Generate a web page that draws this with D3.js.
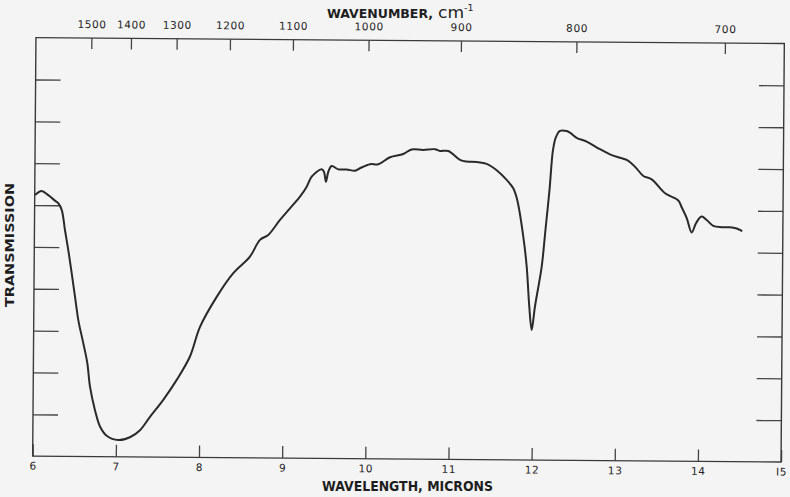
<!DOCTYPE html>
<html>
<head>
<meta charset="utf-8">
<script src="https://cdn.jsdelivr.net/npm/d3@7"></script>
<style>
  body { margin: 0; background: #f4f4f4; }
  svg { display: block; }
</style>
</head>
<body>
<div id="chart"></div>
<script>
// spectrum: wavelength in microns, transmission in % of the frame
const wavelength = [6.003, 6.083, 6.163, 6.244, 6.284, 6.326, 6.367, 6.409, 6.452, 6.494,
  6.536, 6.598, 6.648, 6.683, 6.745, 6.807, 6.888, 7.028, 7.168, 7.288,
  7.407, 7.565, 7.725, 7.882, 8.0, 8.198, 8.395, 8.594, 8.713, 8.812,
  8.952, 9.071, 9.19, 9.27, 9.329, 9.448, 9.476, 9.501, 9.528, 9.568,
  9.648, 9.749, 9.849, 9.909, 10.029, 10.129, 10.269, 10.428, 10.529, 10.668,
  10.809, 10.869, 10.969, 11.111, 11.191, 11.312, 11.432, 11.553, 11.674, 11.754,
  11.803, 11.879, 11.923, 11.958, 11.989, 12.026, 12.103, 12.145, 12.19, 12.228,
  12.262, 12.31, 12.391, 12.431, 12.511, 12.633, 12.793, 12.914, 13.035, 13.116,
  13.216, 13.317, 13.418, 13.58, 13.74, 13.781, 13.843, 13.904, 13.955, 14.021,
  14.083, 14.163, 14.264, 14.364, 14.445, 14.512];
const transmission = [62.4, 63.4, 62.4, 61.1, 60.5, 58.9, 54.1, 49.3, 43.8, 38.2,
  32.6, 27.1, 22.4, 16.7, 11.1, 7.2, 5.0, 4.0, 4.7, 6.4,
  9.6, 13.7, 18.5, 24.1, 31.2, 38.4, 44.1, 48.1, 52.1, 53.3,
  56.9, 59.7, 62.5, 64.9, 67.3, 69.1, 68.5, 66.1, 68.5, 69.9,
  69.1, 69.1, 68.8, 69.4, 70.4, 70.4, 72.1, 72.9, 74.0, 73.9,
  74.1, 73.7, 73.7, 71.6, 71.2, 71.1, 70.7, 69.2, 66.9, 64.9,
  62.1, 53.4, 46.2, 36.6, 31.1, 36.7, 46.2, 55.0, 64.6, 74.1,
  77.2, 78.7, 78.7, 78.3, 77.1, 76.2, 74.4, 73.2, 72.4, 71.9,
  70.3, 68.1, 67.3, 64.0, 62.3, 60.7, 58.1, 54.7, 56.9, 58.5,
  57.7, 56.3, 56.0, 56.0, 55.7, 55.1];

const wavelengthTicks = [6, 7, 8, 9, 10, 11, 12, 13, 14, 15];
const wavenumberTicks = [1500, 1400, 1300, 1200, 1100, 1000, 900, 800, 700];
const transmissionTicks = [10, 20, 30, 40, 50, 60, 70, 80, 90];

const width = 790, height = 497;
const frame = { left: 34.3, right: 782.7, top: 40.6, bottom: 459.1 };

const svg = d3.select("#chart")
  .append("svg")
    .attr("width", width)
    .attr("height", height)
    .style("background", "#f4f4f4");

// the scanned page sits a little crooked, so the plot is turned slightly
const plot = svg.append("g")
    .attr("transform", "rotate(0.45, 408.5, 249.4)");

const x = d3.scaleLinear().domain([6, 15]).range([frame.left, frame.right]);
const y = d3.scaleLinear().domain([0, 100]).range([frame.bottom, frame.top]);

const tickFont = "'DejaVu Sans', sans-serif";

// bottom axis: ticks point up into the frame
const bottomAxis = plot.append("g")
    .attr("transform", `translate(0,${frame.bottom})`)
    .call(d3.axisBottom(x)
      .tickValues(wavelengthTicks)
      .tickSizeInner(-12)
      .tickSizeOuter(0)
      .tickPadding(6)
      .tickFormat(d => d === 15 ? "I5" : d3.format("d")(d)));

// top axis in wavenumbers (cm-1 = 10000 / microns)
const topAxis = plot.append("g")
    .attr("transform", `translate(0,${frame.top})`)
    .call(d3.axisTop(x)
      .tickValues(wavenumberTicks.map(w => 10000 / w))
      .tickSizeInner(-11)
      .tickSizeOuter(0)
      .tickPadding(10)
      .tickFormat(d => Math.round(10000 / d)));

const leftAxis = plot.append("g")
    .attr("transform", `translate(${frame.left},0)`)
    .call(d3.axisLeft(y)
      .tickValues(transmissionTicks)
      .tickSizeInner(-25)
      .tickSizeOuter(0)
      .tickFormat(""));

const rightAxis = plot.append("g")
    .attr("transform", `translate(${frame.right},0)`)
    .call(d3.axisRight(y)
      .tickValues(transmissionTicks)
      .tickSizeInner(-25)
      .tickSizeOuter(0)
      .tickFormat(""));

[bottomAxis, topAxis, leftAxis, rightAxis].forEach(a => {
  a.select(".domain").remove();
  a.selectAll(".tick line").attr("stroke", "#444").attr("stroke-width", 1.3);
  a.selectAll(".tick text")
    .attr("fill", "#222")
    .style("font-family", tickFont)
    .style("font-size", "10.5px")
    .style("letter-spacing", "0.6px");
});
topAxis.selectAll(".tick text").attr("dy", "0");

// the frame
plot.append("rect")
    .attr("x", frame.left)
    .attr("y", frame.top)
    .attr("width", frame.right - frame.left)
    .attr("height", frame.bottom - frame.top)
    .attr("fill", "none")
    .attr("stroke", "#3a3a3a")
    .attr("stroke-width", 1.4);

// the spectrum
const points = wavelength.map((w, i) => [w, transmission[i]]);
plot.append("path")
    .datum(points)
    .attr("fill", "none")
    .attr("stroke", "#2a2a2a")
    .attr("stroke-width", 2)
    .attr("stroke-linejoin", "round")
    .attr("d", d3.line()
      .x(d => x(d[0]))
      .y(d => y(d[1]))
      .curve(d3.curveCatmullRom.alpha(0.5)));

// titles
const titleFont = "'DejaVu Sans', sans-serif";

svg.append("text")
    .attr("x", 322)
    .attr("y", 491)
    .attr("textLength", 171)
    .attr("lengthAdjust", "spacingAndGlyphs")
    .attr("fill", "#1e1e1e")
    .style("font-family", titleFont)
    .style("font-weight", "bold")
    .style("font-size", "13.5px")
    .text("WAVELENGTH, MICRONS");

const topTitle = svg.append("text")
    .attr("fill", "#1e1e1e")
    .style("font-family", titleFont);
topTitle.append("tspan")
    .attr("x", 327)
    .attr("y", 18)
    .attr("textLength", 106)
    .attr("lengthAdjust", "spacingAndGlyphs")
    .style("font-weight", "bold")
    .style("font-size", "13px")
    .text("WAVENUMBER,");
topTitle.append("tspan")
    .attr("x", 438)
    .attr("y", 18)
    .attr("textLength", 26)
    .attr("lengthAdjust", "spacingAndGlyphs")
    .style("font-size", "15px")
    .text("cm");
topTitle.append("tspan")
    .attr("x", 464)
    .attr("y", 11)
    .style("font-size", "9.5px")
    .text("-1");

svg.append("text")
    .attr("transform", "translate(13.5,245) rotate(-90)")
    .attr("text-anchor", "middle")
    .attr("textLength", 124)
    .attr("lengthAdjust", "spacingAndGlyphs")
    .attr("fill", "#1e1e1e")
    .style("font-family", titleFont)
    .style("font-weight", "bold")
    .style("font-size", "13px")
    .text("TRANSMISSION");
</script>
</body>
</html>
